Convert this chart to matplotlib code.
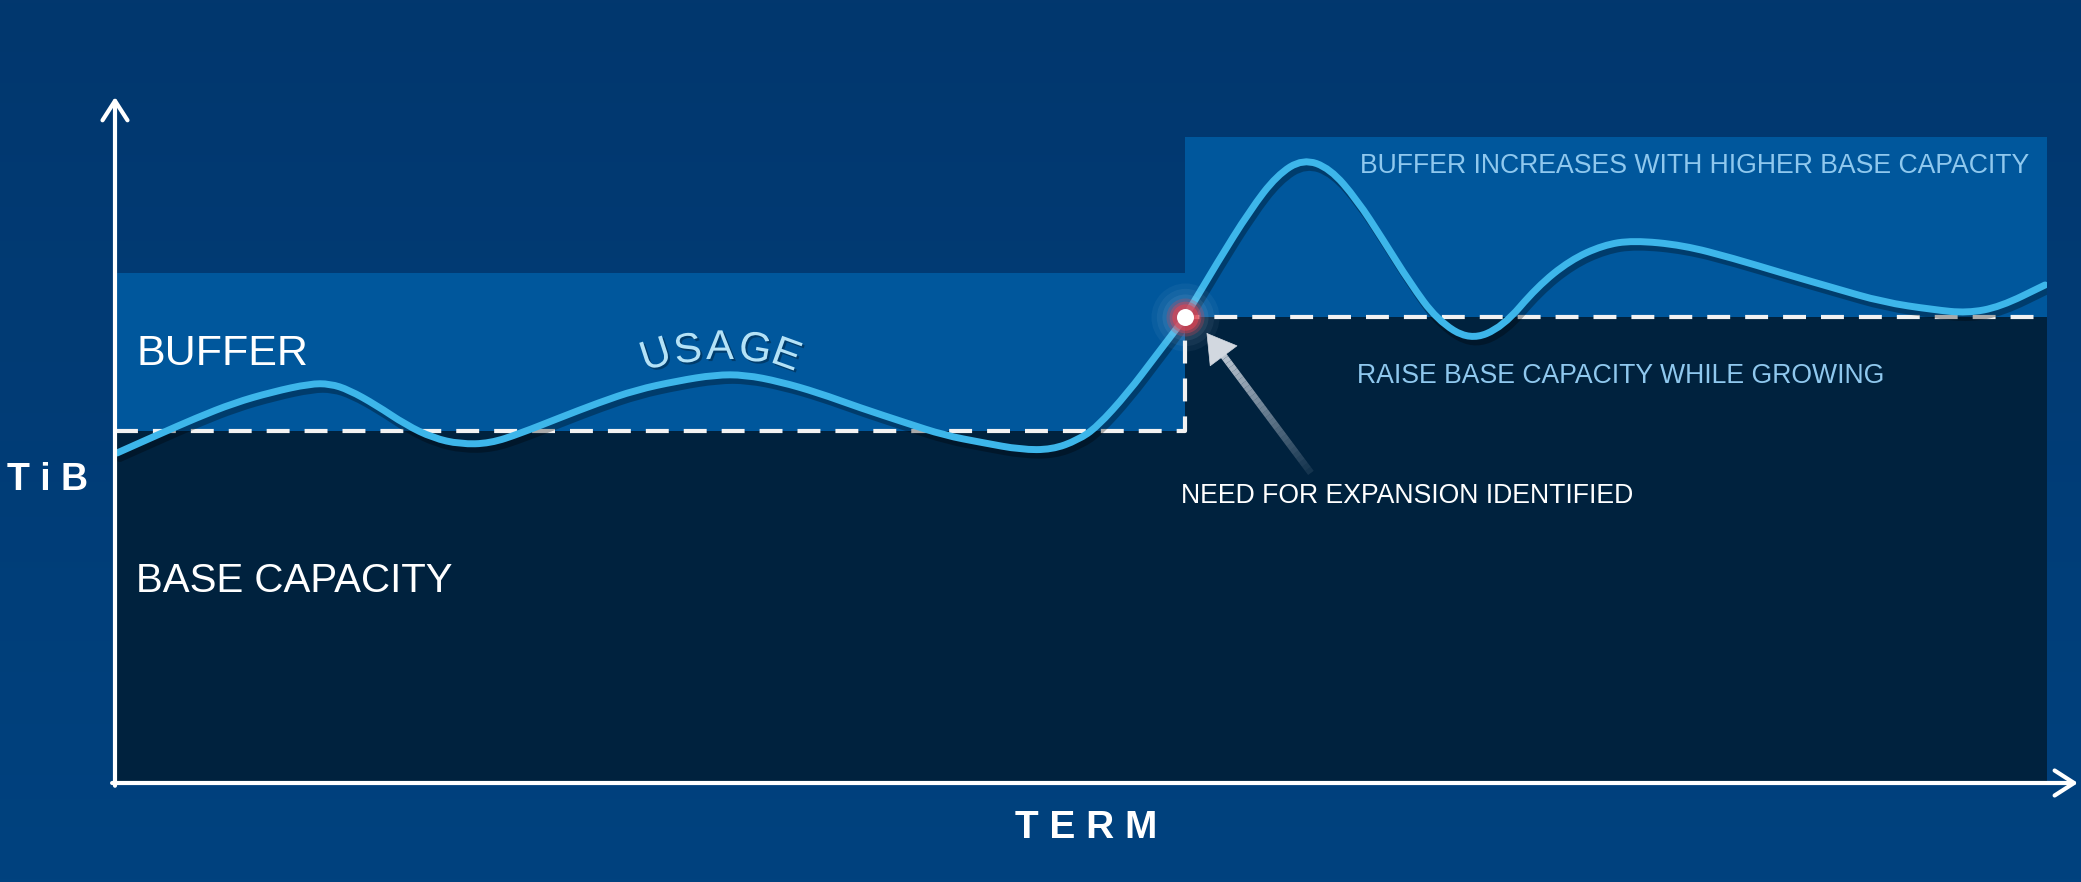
import numpy as np
import matplotlib
matplotlib.use("Agg")
import matplotlib.pyplot as plt
import matplotlib.patheffects as pe
from matplotlib.colors import LinearSegmentedColormap
from matplotlib.collections import LineCollection
from matplotlib.path import Path
from matplotlib.patches import PathPatch

plt.rcParams['font.family'] = ['Liberation Sans', 'DejaVu Sans']

# ---------------- data (term 0..100, TiB 0..100) ----------------
step_term = [0.0, 55.4, 100.0]
base_capacity = [51.3, 67.9, 67.9]
buffer_top = [74.3, 94.2, 94.2]

usage_term = [0.10, 2.17, 4.19, 6.16, 8.13, 10.09, 11.13, 12.11, 13.51, 15.06,
              16.46, 17.86, 19.41, 21.01, 22.98, 25.00, 26.97, 29.09, 31.06, 32.61,
              34.42, 36.39, 38.56, 40.94, 42.91, 44.93, 46.89, 48.50, 49.84, 50.83,
              52.43, 53.83, 55.02, 55.38, 57.04, 58.75, 60.14, 61.49, 62.89, 64.29,
              65.63, 67.03, 68.43, 70.13, 71.84, 73.60, 75.31, 77.02, 78.57, 81.16,
              83.75, 86.34, 88.92, 91.51, 94.10, 95.86, 97.57, 99.90]
usage_tib = [48.1, 50.7, 53.2, 55.4, 57.0, 58.2, 58.2, 57.3, 55.1, 52.2,
             50.3, 49.4, 49.5, 51.0, 53.2, 55.4, 57.3, 58.6, 59.5, 59.5,
             58.5, 56.9, 54.7, 52.5, 50.7, 49.6, 48.6, 48.6, 50.0, 51.9,
             56.9, 62.1, 66.5, 67.9, 75.8, 83.5, 88.6, 91.0, 89.6, 85.0,
             79.2, 72.9, 67.5, 64.5, 66.5, 72.3, 76.2, 78.4, 79.1, 78.4,
             76.5, 74.3, 72.2, 70.1, 69.0, 68.5, 69.4, 72.6]

label_buffer = "BUFFER"
label_base = "BASE CAPACITY"
label_usage = "USAGE"
label_y = "T i B"
label_x = "T E R M"
note_buffer = "BUFFER INCREASES WITH HIGHER BASE CAPACITY"
note_raise = "RAISE BASE CAPACITY WHILE GROWING"
note_need = "NEED FOR EXPANSION IDENTIFIED"

# ---------------- colours ----------------
bg_top, bg_bot = '#02376e', '#00427f'
c_buffer = '#00579c'
c_base = '#00223e'
c_usage = '#3db6ea'
c_note = '#8fc8ee'
c_usage_txt = '#b4e2f7'

W, H = 2081, 882
fig = plt.figure(figsize=(W / 100, H / 100), dpi=100)

# background gradient
bg = fig.add_axes([0, 0, 1, 1])
grad = np.linspace(0, 1, 256).reshape(-1, 1)
cmap = LinearSegmentedColormap.from_list('bg', [bg_bot, bg_top])
bg.imshow(grad, aspect='auto', cmap=cmap, extent=[0, 1, 0, 1], origin='lower')
bg.set_axis_off()

# main axes: left edge = y axis, bottom = x axis
ax = fig.add_axes([115 / W, (H - 783) / H, 1932 / W, 686 / H])
ax.set_xlim(0, 100)
ax.set_ylim(0, 100)
ax.set_axis_off()
ax.patch.set_alpha(0)

ax.fill_between(step_term, 0, base_capacity, step='post', color=c_base, lw=0, zorder=1)
ax.fill_between(step_term, base_capacity, buffer_top, step='post', color=c_buffer, lw=0, zorder=1)

ax.step(step_term, base_capacity, where='post', color='#f2f2f2', lw=3,
        dashes=(5.5, 3.6), zorder=2)

# usage curve: smooth quadratic path using the read points as control points
pts = list(zip(usage_term, usage_tib))
verts = [pts[0], ((pts[0][0] + pts[1][0]) / 2, (pts[0][1] + pts[1][1]) / 2)]
codes = [Path.MOVETO, Path.LINETO]
for i in range(1, len(pts) - 1):
    mid = ((pts[i][0] + pts[i + 1][0]) / 2, (pts[i][1] + pts[i + 1][1]) / 2)
    verts += [pts[i], mid]
    codes += [Path.CURVE3, Path.CURVE3]
verts.append(pts[-1])
codes.append(Path.LINETO)
usage_patch = PathPatch(Path(verts, codes), fill=False, edgecolor=c_usage, lw=5,
                        capstyle='round', joinstyle='round', zorder=3,
                        path_effects=[pe.SimpleLineShadow(offset=(2, -4), shadow_color='black', alpha=0.3),
                                      pe.Normal()])
ax.add_patch(usage_patch)

# axes arrows
arrow_kw = dict(arrowstyle='->,head_length=0.7,head_width=0.45', color='white', lw=3,
                mutation_scale=20, shrinkA=0, shrinkB=0)
ax.annotate('', xy=(0, 100), xytext=(0, -0.4), arrowprops=arrow_kw, annotation_clip=False, zorder=5)
ax.annotate('', xy=(101.6, 0), xytext=(-0.15, 0), arrowprops=arrow_kw, annotation_clip=False, zorder=5)

# expansion point with glow
ex, ey = step_term[1], base_capacity[1]
for s, a in [(2400, 0.05), (1700, 0.06), (1100, 0.08)]:
    ax.scatter([ex], [ey], s=s, color='#cfe4f5', alpha=a, lw=0, zorder=6)
for s, a in [(750, 0.25), (520, 0.4), (360, 0.6)]:
    ax.scatter([ex], [ey], s=s, color='#e04352', alpha=a, lw=0, zorder=6)
ax.scatter([ex], [ey], s=150, color='white', lw=0, zorder=7)

# pointer arrow to the expansion point
tip = (56.5, 65.6)
tail = (61.9, 45.2)
n = 30
xs = np.linspace(tail[0], tip[0] - (tip[0] - tail[0]) * 0.12, n + 1)
ys = np.linspace(tail[1], tip[1] - (tip[1] - tail[1]) * 0.12, n + 1)
segs = [[(xs[i], ys[i]), (xs[i + 1], ys[i + 1])] for i in range(n)]
cols = [(0.80, 0.83, 0.87, a) for a in np.linspace(0.1, 0.95, n)]
ax.add_collection(LineCollection(segs, colors=cols, linewidths=5, zorder=4, capstyle='butt'))
ax.annotate('', xy=tip, xytext=(xs[-2], ys[-2]),
            arrowprops=dict(arrowstyle='-|>,head_length=1.0,head_width=0.6', color='#d2d8e0',
                            lw=0.5, mutation_scale=20, shrinkA=0, shrinkB=0), zorder=4)

# texts
ax.text(1.09, 60.9, label_buffer, color='white', fontsize=31, va='baseline', ha='left', zorder=8)
ax.text(1.09, 27.8, label_base, color='white', fontsize=29, va='baseline', ha='left', zorder=8)
ax.text(64.44, 88.9, note_buffer, color=c_note, fontsize=19.2, va='baseline', ha='left', zorder=8)
ax.text(64.29, 58.3, note_raise, color=c_note, fontsize=19.2, va='baseline', ha='left', zorder=8)
ax.text(55.18, 40.8, note_need, color='white', fontsize=19.2, va='baseline', ha='left', zorder=8)
ax.text(-3.47, 42.7, label_y, color='white', fontsize=27, fontweight='bold', va='baseline',
        ha='center', clip_on=False, zorder=8)
ax.text(50.26, -8.0, label_x, color='white', fontsize=28, fontweight='bold', va='baseline',
        ha='center', clip_on=False, zorder=8)

# curved "USAGE" label, one letter at a time along the curve
letter_pos = [(656, 356, 18), (688, 351, 8), (720, 348, 0), (755, 350, -10), (786, 356, -20)]
for ch, (px, py, rot) in zip(label_usage, letter_pos):
    ax.text((px - 115) / 19.32, (783 - py) / 6.86, ch, color=c_usage_txt, fontsize=30,
            rotation=rot, ha='center', va='center', rotation_mode='anchor', zorder=8,
            path_effects=[pe.withSimplePatchShadow(offset=(1.5, -1.5), shadow_rgbFace='black', alpha=0.3)])

fig.savefig('out.png', dpi=100, facecolor=bg_top)
